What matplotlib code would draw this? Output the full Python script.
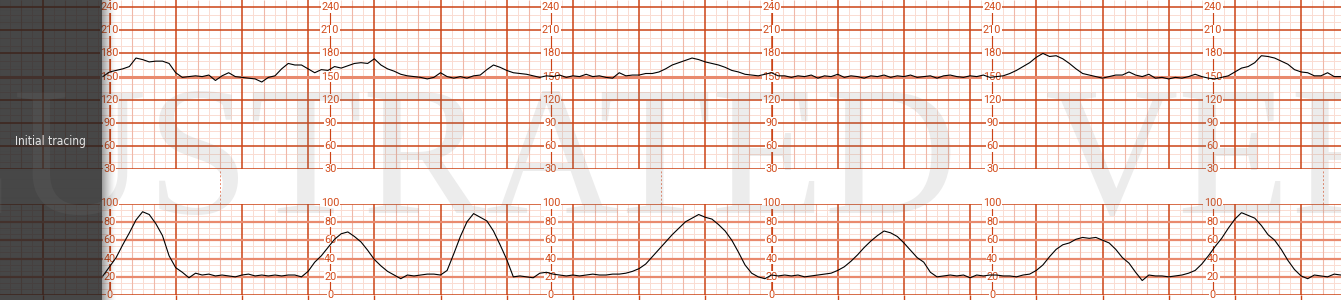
import numpy as np
import matplotlib
matplotlib.use("Agg")
import matplotlib.pyplot as plt

# Traçado: uma amostra a cada 6 s (0.1 min), papel a 3 cm/min
minutes = np.linspace(-0.1, 18.6, 188)

fhr_bpm = [
    150, 156, 158, 160, 163, 174, 172, 169, 170, 170, 167, 155, 149, 150, 151, 150, 152, 145, 151, 155,
    150, 149, 148, 147, 143, 149, 151, 160, 167, 165, 165, 160, 155, 159, 158, 163, 161, 164, 167, 168,
    167, 173, 165, 160, 157, 153, 151, 150, 149, 147, 149, 155, 150, 148, 150, 148, 151, 152, 159, 165,
    162, 158, 155, 154, 153, 151, 149, 151, 150, 152, 149, 151, 150, 153, 150, 151, 149, 148, 155, 151,
    152, 152, 154, 154, 156, 160, 165, 168, 171, 174, 172, 169, 167, 165, 162, 158, 156, 153, 152, 151,
    153, 155, 151, 151, 149, 151, 150, 152, 148, 151, 150, 153, 149, 151, 150, 148, 151, 150, 152, 149,
    151, 150, 152, 149, 150, 151, 148, 151, 152, 150, 149, 151, 150, 152, 149, 150, 151, 154, 158, 163,
    168, 175, 180, 176, 177, 173, 167, 160, 154, 152, 150, 148, 150, 152, 152, 156, 152, 150, 153, 148,
    149, 147, 149, 148, 150, 153, 150, 148, 147, 149, 151, 156, 161, 163, 168, 177, 176, 174, 170, 166,
    159, 156, 155, 151, 151, 155, 150, 150,
]

uterine_activity = [
    21, 31, 41, 55, 68, 82, 91, 88, 78, 65, 43, 30, 25, 19, 24, 22, 23, 21, 22, 21,
    20, 22, 23, 21, 22, 21, 22, 21, 22, 22, 20, 26, 36, 43, 52, 61, 67, 69, 64, 58,
    49, 39, 32, 26, 22, 18, 22, 21, 22, 23, 23, 22, 27, 45, 64, 80, 89, 85, 81, 70,
    55, 39, 20, 21, 20, 19, 24, 25, 23, 22, 21, 22, 21, 22, 23, 22, 22, 23, 23, 24,
    26, 29, 34, 42, 50, 58, 66, 73, 80, 84, 88, 85, 83, 77, 70, 60, 47, 33, 24, 20,
    18, 22, 21, 22, 21, 22, 20, 21, 22, 23, 24, 27, 31, 37, 44, 52, 59, 65, 70, 68,
    64, 57, 49, 41, 36, 25, 20, 21, 22, 21, 22, 19, 22, 21, 22, 22, 21, 21, 20, 22,
    23, 27, 33, 42, 50, 55, 57, 61, 63, 62, 63, 60, 57, 50, 41, 35, 25, 16, 22, 21,
    21, 20, 21, 22, 24, 27, 34, 43, 53, 62, 73, 83, 90, 87, 84, 76, 66, 60, 50, 38,
    28, 21, 18, 22, 21, 20, 23, 22,
]

fhr_ticks = [240, 210, 180, 150, 120, 90, 60, 30]
ua_ticks = [100, 80, 60, 40, 20, 0]
label_columns = [0, 10 / 3, 20 / 3, 10, 40 / 3, 50 / 3]
dashed_marks = [5 / 3, 25 / 3, 55 / 3]
panel_label = "Initial tracing"
watermark_words = ["ILLUSTRATED", "VERSION"]

# Cores do papel
MAJOR = "#cc4416"
BAND = "#e98a6e"
MEDIUM = "#f0b8a8"
LIGHT = "#fadcd2"
LABEL = "#d24c1c"

W, H = 1341, 300
PX_MIN = 66.2
X0 = 109.5
xlim = (-X0 / PX_MIN, (W - X0) / PX_MIN)

fig = plt.figure(figsize=(W / 100, H / 100), dpi=100)
fig.patch.set_facecolor("white")

ax_fhr = fig.add_axes([0, 1 - 169.4 / H, 1, 169.4 / H])
ax_ua = fig.add_axes([0, (H - 295.2) / H, 1, 91.7 / H])


def vertical_grid(ax, y0, y1):
    # Linhas verticais: 0.5 cm, 1 cm e 1 minuto
    for k in range(-12, 120):
        t = k / 6
        if k % 6 == 0:
            ax.vlines(t, y0, y1, color=MAJOR, lw=1.1, zorder=1.3)
        elif k % 2 == 0:
            ax.vlines(t, y0, y1, color=MEDIUM, lw=0.8, zorder=1.1)
        else:
            ax.vlines(t, y0, y1, color=LIGHT, lw=0.7, zorder=1)


def column_labels(ax, ticks, y0, y1):
    # Colunas de escala a cada 10 cm
    for t in label_columns:
        ax.vlines(t, y0, y1, color=MAJOR, lw=0.8, zorder=2)
        for v in ticks:
            ax.text(t, v, str(v), ha="center", va="center", fontsize=7.8,
                    family=["Roboto", "DejaVu Sans"], color=LABEL, zorder=3,
                    bbox=dict(fc="white", ec="none", pad=0.4))


# Faixa superior: frequência cardíaca fetal
top = 30 + 169.4 / (23.2 / 30)
vertical_grid(ax_fhr, 30, top)
for v in range(30, 241, 10):
    if v == 150:
        ax_fhr.axhline(v, color=BAND, lw=2.2, zorder=1.5)
    elif v % 30 == 0:
        ax_fhr.axhline(v, color=MAJOR, lw=1.1, zorder=1.4)
    else:
        ax_fhr.axhline(v, color=LIGHT, lw=0.7, zorder=1)
column_labels(ax_fhr, fhr_ticks, 30, 240)
ax_fhr.vlines(dashed_marks, 30 - 34.1 / (23.2 / 30), 30, color=BAND, lw=0.7,
              linestyles=(0, (2, 2)), clip_on=False, zorder=1)
ax_fhr.plot(minutes, fhr_bpm, color="black", lw=0.8, zorder=4)
ax_fhr.set_ylim(30, top)

# Faixa inferior: atividade uterina
vertical_grid(ax_ua, 0, 100)
for k in range(16):
    v = k * 20 / 3
    if k % 3:
        ax_ua.axhline(v, color=LIGHT, lw=0.7, zorder=1)
    elif k in (0, 15):
        ax_ua.axhline(v, color=MAJOR, lw=1.1, zorder=1.4)
    else:
        ax_ua.axhline(v, color=BAND, lw=1.6, zorder=1.5)
column_labels(ax_ua, ua_ticks, 0, 100)
ax_ua.plot(minutes, uterine_activity, color="black", lw=0.8, zorder=4)
ax_ua.set_ylim(0, 100)

for ax in (ax_fhr, ax_ua):
    ax.set_xlim(*xlim)
    ax.set_facecolor("none")
    for s in ax.spines.values():
        s.set_visible(False)
    ax.set_yticks([])
ax_fhr.set_xticks([])
ax_ua.set_xticks(np.arange(-1, 19))
ax_ua.tick_params(axis="x", direction="out", length=3.4, width=1.0,
                  color=MAJOR, labelbottom=False)

# Painel escuro à esquerda, sombra e marca d'água
ov = fig.add_axes([0, 0, 1, 1], zorder=10)
ov.set_xlim(0, W)
ov.set_ylim(H, 0)
ov.axis("off")
ov.patch.set_alpha(0)

cols = np.arange(118)
alpha = np.where(cols < 102, 0.82, 0.42 * np.clip(1 - (cols - 102) / 14, 0, 1) ** 1.5)
rgba = np.zeros((1, len(cols), 4))
rgba[..., :3] = 30 / 255
rgba[0, :, 3] = alpha
ov.imshow(rgba, extent=(0, len(cols), H, 0), aspect="auto", interpolation="bilinear")

for word, x in zip(watermark_words, [-274, 1045]):
    ov.text(x, 213, word, fontsize=133, family=["Liberation Serif", "DejaVu Serif"],
            color="#7a7a7a", alpha=0.14, ha="left", va="baseline")
ov.text(50, 142, panel_label, fontsize=8.6, color="#e4e4e4",
        family="DejaVu Sans", stretch="condensed", ha="center", va="center")

fig.savefig("out.png", dpi=100)
